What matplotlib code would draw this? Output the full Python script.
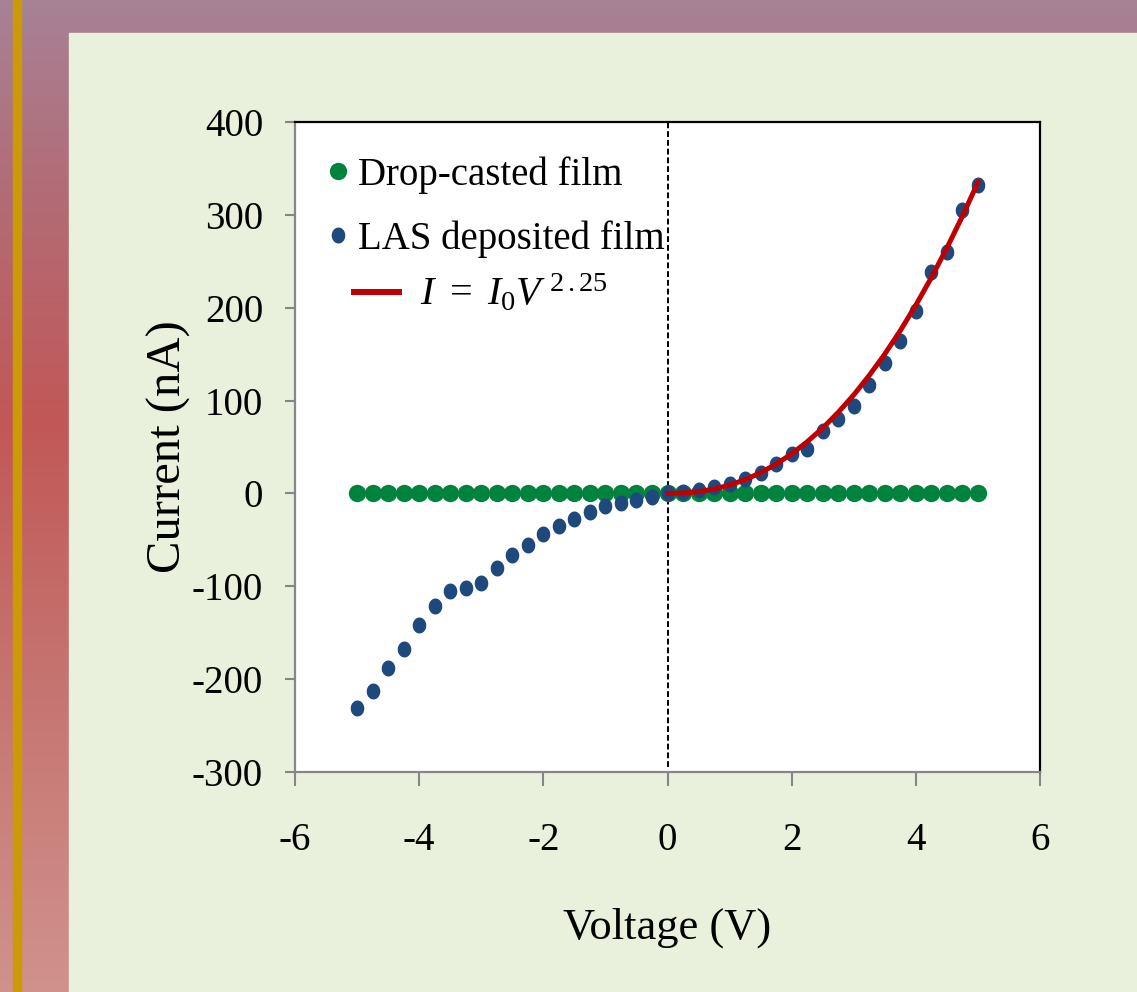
import numpy as np
import matplotlib.pyplot as plt
from matplotlib.patches import Rectangle
from matplotlib.lines import Line2D
from matplotlib.path import Path

# Dados
voltage = [-5.0, -4.75, -4.5, -4.25, -4.0, -3.75, -3.5, -3.25, -3.0, -2.75,
           -2.5, -2.25, -2.0, -1.75, -1.5, -1.25, -1.0, -0.75, -0.5, -0.25,
           0.0, 0.25, 0.5, 0.75, 1.0, 1.25, 1.5, 1.75, 2.0, 2.25,
           2.5, 2.75, 3.0, 3.25, 3.5, 3.75, 4.0, 4.25, 4.5, 4.75, 5.0]
drop_current = [0.0] * len(voltage)
las_current = [-231, -213, -188, -167, -142, -121, -105, -102, -96, -80,
               -66, -55, -44, -35, -27, -20, -14, -10, -7, -4,
               0, 1.4, 4, 7, 10, 16, 22, 32, 42, 48,
               67, 80, 94, 117, 140, 164, 196, 238, 260, 305, 332]
fit_voltage = voltage[20:]
fit_current = [0.0, 0.4, 1.9, 4.7, 9.0, 14.8, 22.3, 31.6, 42.6, 55.6, 70.4,
               87.3, 106.1, 127.1, 150.1, 175.3, 202.8, 232.4, 264.3, 298.5, 335.0]

x_ticks = [-6, -4, -2, 0, 2, 4, 6]
y_ticks = [-300, -200, -100, 0, 100, 200, 300, 400]

GREEN = '#00843D'
BLUE = '#1F497D'
RED = '#C00000'

plt.rcParams['font.family'] = ['Liberation Serif', 'DejaVu Serif']
plt.rcParams['axes.unicode_minus'] = False
plt.rcParams['mathtext.fontset'] = 'custom'
plt.rcParams['mathtext.rm'] = 'Liberation Serif'
plt.rcParams['mathtext.it'] = 'Liberation Serif:italic'

W, H = 1137, 992
fig = plt.figure(figsize=(W / 100, H / 100), dpi=100)

# Fundo do slide (gradiente + painel claro + faixa laranja)
bg = fig.add_axes([0, 0, 1, 1])
bg.set_xlim(0, W)
bg.set_ylim(H, 0)
bg.axis('off')
stops_y = [0, 190, 420, 700, 992]
stops_c = np.array([(167, 130, 150), (178, 108, 118), (193, 88, 87),
                    (198, 118, 114), (209, 146, 140)]) / 255.0
yy = np.arange(H)
grad = np.stack([np.interp(yy, stops_y, stops_c[:, k]) for k in range(3)], axis=-1)
bg.imshow(grad[:, None, :], extent=[0, W, H, 0], aspect='auto', zorder=0)
bg.add_patch(Rectangle((69, 33), W - 69, H - 33, color='#E9F0DC', zorder=1))
bg.add_patch(Rectangle((12.5, 0), 8.5, H, color='#CC9A06', zorder=1))

# Eixo principal
ax = fig.add_axes([295 / W, 1 - 772 / H, 745 / W, 650 / H])
ax.set_facecolor('white')

theta = np.linspace(0, 2 * np.pi, 40)
ellipse = Path(np.column_stack([0.85 * np.cos(theta), np.sin(theta)]), closed=True)

ax.plot(voltage, drop_current, 'o', color=GREEN, ms=12.5, mec='none', zorder=3)
ax.plot(voltage, las_current, linestyle='none', marker=ellipse, color=BLUE,
        ms=11.5, mec='none', zorder=4)
ax.plot(fit_voltage, fit_current, color=RED, lw=3.6, zorder=5)
ax.axvline(0, ymin=0.008, color='black', lw=1.4, linestyle=(0, (3, 1.5)), zorder=2)

ax.set_xlim(-6, 6)
ax.set_ylim(-300, 400)
ax.set_xticks(x_ticks)
ax.set_yticks(y_ticks)
ax.tick_params(axis='x', direction='out', length=10, width=1.5, color='#868686',
               labelsize=28, pad=26)
ax.tick_params(axis='y', direction='out', length=7, width=1.5, color='#868686',
               labelsize=28, pad=16)

for side in ['left', 'bottom']:
    ax.spines[side].set_color('#868686')
    ax.spines[side].set_linewidth(1.6)
for side in ['top', 'right']:
    ax.spines[side].set_color('black')
    ax.spines[side].set_linewidth(1.6)

ax.set_xlabel('Voltage (V)', fontsize=32)
ax.set_ylabel('Current (nA)', fontsize=35)
ax.xaxis.set_label_coords(0.5, -0.208)
ax.yaxis.set_label_coords(-0.14, 0.5)

# Legendas
h_drop = Line2D([], [], linestyle='none', marker='o', color=GREEN, ms=12.5, mec='none')
h_las = Line2D([], [], linestyle='none', marker=ellipse, color=BLUE, ms=11.5, mec='none')
leg1 = ax.legend([h_drop, h_las], ['Drop-casted film', 'LAS deposited film'],
                 loc='upper left', bbox_to_anchor=(0.045, 0.947), frameon=False,
                 fontsize=28, handlelength=0.5, handletextpad=0.25,
                 borderpad=0, borderaxespad=0, labelspacing=0.68)
ax.add_artist(leg1)

h_fit = Line2D([], [], color=RED, lw=4.3)
ax.legend([h_fit], [r'$I\ =\ I_{0}V^{\ 2\,.25}$'],
          loc='upper left', bbox_to_anchor=(0.079, 0.767), frameon=False,
          fontsize=29, handlelength=1.13, handletextpad=0.5,
          borderpad=0, borderaxespad=0)

plt.savefig('out.png', dpi=100)
plt.close()
